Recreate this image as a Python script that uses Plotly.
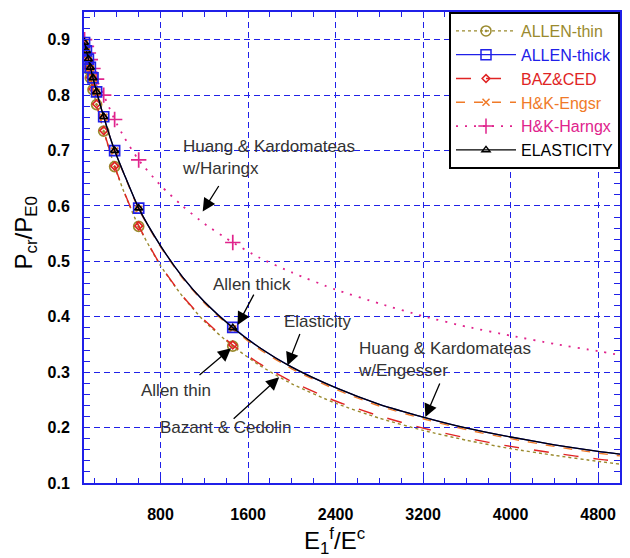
import plotly.graph_objects as go

# ---- data ----
x_line = [105, 122, 140, 158, 182, 215, 280, 380, 470, 600, 800, 1000, 1200, 1460,
          1700, 2000, 2400, 2800, 3200, 3600, 4000, 4400, 4800, 5000]
x_mark = [105, 122, 140, 158, 182, 215, 280, 380, 600, 1460]

elasticity_y = [0.895, 0.880, 0.865, 0.850, 0.831, 0.806, 0.761, 0.700, 0.656, 0.596, 0.528,
                0.472, 0.427, 0.380, 0.345, 0.309, 0.272, 0.242, 0.219, 0.199, 0.183,
                0.169, 0.157, 0.152]
allen_thick_y = [0.895, 0.880, 0.865, 0.850, 0.831, 0.806, 0.761, 0.700, 0.656, 0.596, 0.528,
                 0.472, 0.427, 0.381, 0.345, 0.309, 0.272, 0.242, 0.219, 0.199, 0.183,
                 0.169, 0.157, 0.152]
hk_engsr_y = [0.894, 0.879, 0.864, 0.849, 0.830, 0.805, 0.760, 0.699, 0.655, 0.594, 0.526,
              0.470, 0.425, 0.378, 0.342, 0.306, 0.269, 0.239, 0.216, 0.196, 0.180,
              0.166, 0.154, 0.149]
allen_thin_y = [0.881, 0.864, 0.847, 0.831, 0.810, 0.783, 0.735, 0.671, 0.623, 0.563, 0.492,
                0.437, 0.392, 0.347, 0.313, 0.279, 0.244, 0.217, 0.195, 0.177, 0.162,
                0.150, 0.139, 0.134]
baz_ced_y = [0.882, 0.865, 0.848, 0.832, 0.811, 0.784, 0.736, 0.672, 0.624, 0.564, 0.493,
             0.438, 0.394, 0.349, 0.316, 0.283, 0.248, 0.221, 0.199, 0.181, 0.166,
             0.154, 0.143, 0.139]
hk_harngx_y = [0.900, 0.888, 0.876, 0.864, 0.848, 0.829, 0.800, 0.756, 0.723, 0.683, 0.637,
               0.600, 0.568, 0.534, 0.507, 0.480, 0.449, 0.424, 0.401, 0.382, 0.366,
               0.351, 0.338, 0.331]

x_ticks = [800, 1600, 2400, 3200, 4000, 4800]
y_ticks = [0.1, 0.2, 0.3, 0.4, 0.5, 0.6, 0.7, 0.8, 0.9]

BLUE = '#2020e8'

series = [
    # name, y, color, dash, symbol, size, legend rank, line width
    ('H&K-Harngx', hk_harngx_y, '#e0238c', '2px,7px', 'cross-thin', 11, 5, 1.8),
    ('ALLEN-thin', allen_thin_y, '#9a8a2e', 'dot', 'circle-open-dot', 10, 1, 1.4),
    ('BAZ&CED', baz_ced_y, '#e02424', 'longdash', 'diamond-open', 6, 3, 1.4),
    ('H&K-Engsr', hk_engsr_y, '#f07a28', 'dash', 'x-thin', 7, 4, 1.4),
    ('ALLEN-thick', allen_thick_y, BLUE, 'solid', 'square-open', 10, 2, 1.3),
    ('ELASTICITY', elasticity_y, '#000000', 'solid', 'triangle-up-open', 7, 6, 1.3),
]

fig = go.Figure()
for name, ys, color, dash, symbol, size, rank, lw in series:
    mk_y = [ys[x_line.index(xv)] for xv in x_mark]
    fig.add_trace(go.Scatter(x=x_line, y=ys, mode='lines', showlegend=False,
                             line=dict(color=color, dash=dash, width=lw, shape='spline',
                                       smoothing=0.6)))
    fig.add_trace(go.Scatter(x=x_mark, y=mk_y, mode='markers', showlegend=False,
                             marker=dict(symbol=symbol, size=size, color=color,
                                         line=dict(color=color, width=1.7))))
    fig.add_trace(go.Scatter(x=[None], y=[None], mode='lines+markers',
                             name="<span style='color:%s'>%s</span>" % (color, name),
                             legendrank=rank,
                             line=dict(color=color, dash=dash, width=lw),
                             marker=dict(symbol=symbol, size=size, color=color,
                                         line=dict(color=color, width=1.5))))

tickfont = dict(family='Liberation Sans', size=16, color='black', weight='bold')
common = dict(showline=True, linecolor=BLUE, linewidth=2, mirror='ticks',
              ticks='inside', ticklen=6, tickcolor=BLUE, tickwidth=1.3,
              showgrid=True, gridcolor=BLUE, gridwidth=1.2, griddash='6px,4px',
              zeroline=False, tickfont=tickfont)

fig.update_xaxes(range=[100, 5000], tickvals=x_ticks, ticktext=[str(v) for v in x_ticks],
                 ticklabelstandoff=16,
                 minor=dict(dtick=200, tick0=0, ticks='inside', ticklen=5,
                            tickcolor=BLUE, tickwidth=1.3, showgrid=False),
                 **common)
fig.update_yaxes(range=[0.1, 0.95], tickvals=y_ticks, ticktext=['%.1f' % v for v in y_ticks],
                 ticklabelstandoff=9,
                 minor=dict(dtick=0.02, tick0=0, ticks='inside', ticklen=6,
                            tickcolor=BLUE, tickwidth=1.3, showgrid=False),
                 **common)

afont = dict(family='Liberation Sans', size=17, color='#333333')
notes = [
    # text, x, y, xanchor
    ('Huang & Kardomateas<br>w/Haringx', 973, 0.688, 'left'),
    ('Allen thick', 1638, 0.459, 'center'),
    ('Elasticity', 2240, 0.391, 'center'),
    ('Allen thin', 937, 0.267, 'center'),
    ('Bazant & Cedolin', 1397, 0.201, 'center'),
    ('Huang & Kardomateas<br>w/Engesser', 2583, 0.323, 'left'),
]
for t, x, y, xa in notes:
    fig.add_annotation(x=x, y=y, text=t, showarrow=False, xanchor=xa, yanchor='middle',
                       align='left', font=afont)

arrows = [
    # tip x, tip y, tail offset dx, dy (pixels)
    (1185, 0.590, 17, -27),
    (1504, 0.385, 17, -32),
    (1960, 0.312, 13, -33),
    (1444, 0.343, -33, 28),
    (1884, 0.291, -47, 43),
    (3221, 0.219, 15, -35),
]
for x, y, dx, dy in arrows:
    fig.add_annotation(x=x, y=y, ax=dx, ay=dy, text='', showarrow=True,
                       arrowhead=2, arrowsize=2.0, arrowwidth=1.3, arrowcolor='black',
                       standoff=0)

# axis titles
fig.add_annotation(xref='paper', yref='paper', x=0.4665, y=-0.123, xanchor='center',
                   yanchor='middle', showarrow=False,
                   text='E<sub>1</sub><sup>f</sup>/E<sup>c</sup>',
                   font=dict(family='Liberation Sans', size=24, color='black'))
fig.add_annotation(xref='paper', yref='paper', x=-0.11, y=0.53, xanchor='center',
                   yanchor='middle', showarrow=False, textangle=-90,
                   text='P<sub>cr</sub>/P<sub>E0</sub>',
                   font=dict(family='Liberation Sans', size=24, color='black'))

fig.update_layout(
    width=630, height=558,
    margin=dict(l=84, r=8, t=12, b=75),
    paper_bgcolor='white', plot_bgcolor='white',
    legend=dict(x=1, y=1, xanchor='right', yanchor='top',
                bgcolor='white', bordercolor='black', borderwidth=2,
                font=dict(family='Liberation Sans', size=16), itemwidth=60,
                tracegroupgap=0),
)

fig.write_html('out.html', config={'displayModeBar': False},
               post_script="document.body.style.margin='0px';document.body.style.overflow='hidden';")
